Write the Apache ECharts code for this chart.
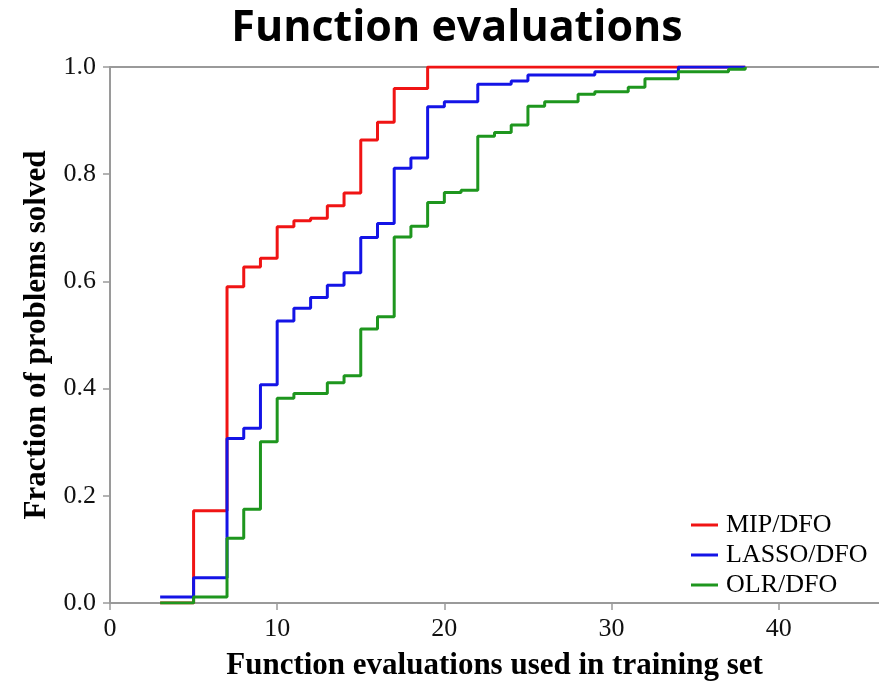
<!DOCTYPE html>
<html>
<head>
<meta charset="utf-8">
<script src="https://cdn.jsdelivr.net/npm/echarts@6/dist/echarts.min.js"></script>
<style>
  html, body { margin: 0; padding: 0; background: #fff; }
  #chart { width: 879px; height: 690px; }
</style>
</head>
<body>
<div id="chart"></div>
<script>
// step positions (function evaluations) and fraction solved from that point on
const mipEvals = [3, 5, 7, 8, 9, 10, 11, 12, 13, 14, 15, 16, 17, 19, 38];
const mipFrac = [0, 0.172, 0.590, 0.627, 0.643, 0.702, 0.713, 0.718, 0.741, 0.765, 0.864, 0.897, 0.960, 1.0, 1.0];

const lassoEvals = [3, 5, 7, 8, 9, 10, 11, 12, 13, 14, 15, 16, 17, 18, 19, 20, 22, 24, 25, 29, 34, 38];
const lassoFrac = [0.011, 0.047, 0.307, 0.326, 0.407, 0.526, 0.550, 0.570, 0.593, 0.616, 0.682, 0.708, 0.811, 0.830, 0.926, 0.935, 0.968, 0.974, 0.985, 0.991, 1.0, 1.0];

const olrEvals = [3, 5, 7, 8, 9, 10, 11, 13, 14, 15, 16, 17, 18, 19, 20, 21, 22, 23, 24, 25, 26, 28, 29, 31, 32, 34, 37, 38];
const olrFrac = [0, 0.011, 0.121, 0.175, 0.301, 0.382, 0.391, 0.411, 0.424, 0.511, 0.534, 0.683, 0.703, 0.747, 0.766, 0.770, 0.871, 0.878, 0.892, 0.927, 0.935, 0.949, 0.954, 0.962, 0.978, 0.991, 0.996, 1.0];

const seriesNames = ['MIP/DFO', 'LASSO/DFO', 'OLR/DFO'];
const seriesColors = ['#f01414', '#1414e6', '#1e961e'];

const xTicks = [0, 10, 20, 30, 40];

const serif = 'Liberation Serif, Times New Roman, serif';
const axisGrey = '#9a9a9a';

function pairs(xs, ys) {
  return xs.map((x, i) => [x, ys[i]]);
}

const chart = echarts.init(document.getElementById('chart'));

const lines = [
  pairs(mipEvals, mipFrac),
  pairs(lassoEvals, lassoFrac),
  pairs(olrEvals, olrFrac)
].map((data, i) => ({
  name: seriesNames[i],
  type: 'line',
  step: 'end',
  data: data,
  symbol: 'none',
  lineStyle: { color: seriesColors[i], width: 3 },
  itemStyle: { color: seriesColors[i] },
  animation: false
}));

chart.setOption({
  backgroundColor: '#fff',
  title: {
    text: 'Function evaluations',
    left: 452,
    top: 2,
    textAlign: 'center',
    textStyle: {
      fontFamily: 'Open Sans, Liberation Sans, sans-serif',
      fontWeight: 'bold',
      fontSize: 43,
      color: '#000'
    }
  },
  legend: {
    orient: 'vertical',
    left: 686,
    top: 507,
    itemWidth: 27,
    itemHeight: 12,
    itemGap: 4,
    data: seriesNames.map((n, i) => ({
      name: n,
      icon: 'path://M0,5 L27,5 L27,8 L0,8 Z',
      itemStyle: { color: seriesColors[i] }
    })),
    textStyle: { fontFamily: serif, fontSize: 26, color: '#000', padding: [0, 0, 0, 3] }
  },
  grid: { left: 110, right: -3, top: 67, bottom: 87, containLabel: false },
  xAxis: [{
    type: 'value',
    min: 0,
    max: 46,
    interval: 10,
    name: 'Function evaluations used in training set',
    nameLocation: 'middle',
    nameGap: 47,
    nameTextStyle: { fontFamily: serif, fontSize: 31, fontWeight: 'bold', color: '#000' },
    axisLine: { show: true, lineStyle: { color: axisGrey, width: 2 } },
    axisTick: { show: true, length: 7, lineStyle: { color: axisGrey, width: 1.5 } },
    axisLabel: {
      showMaxLabel: false,
      margin: 13,
      fontFamily: serif,
      fontSize: 26,
      color: '#111',
      formatter: v => (xTicks.indexOf(v) >= 0 ? String(v) : '')
    },
    splitLine: { show: false }
  }, {
    type: 'value',
    position: 'top',
    min: 0,
    max: 46,
    axisLine: { show: true, lineStyle: { color: axisGrey, width: 2 } },
    axisTick: { show: false },
    axisLabel: { show: false },
    splitLine: { show: false }
  }],
  yAxis: {
    type: 'value',
    min: 0,
    max: 1,
    interval: 0.2,
    name: 'Fraction of problems solved',
    nameLocation: 'middle',
    nameGap: 58,
    nameTextStyle: { fontFamily: serif, fontSize: 31, fontWeight: 'bold', color: '#000' },
    axisLine: { show: true, lineStyle: { color: axisGrey, width: 2 } },
    axisTick: { show: true, length: 7, lineStyle: { color: axisGrey, width: 1.5 } },
    axisLabel: {
      margin: 14,
      fontFamily: serif,
      fontSize: 26,
      color: '#111',
      formatter: v => v.toFixed(1)
    },
    splitLine: { show: false }
  },
  series: lines
});
</script>
</body>
</html>
